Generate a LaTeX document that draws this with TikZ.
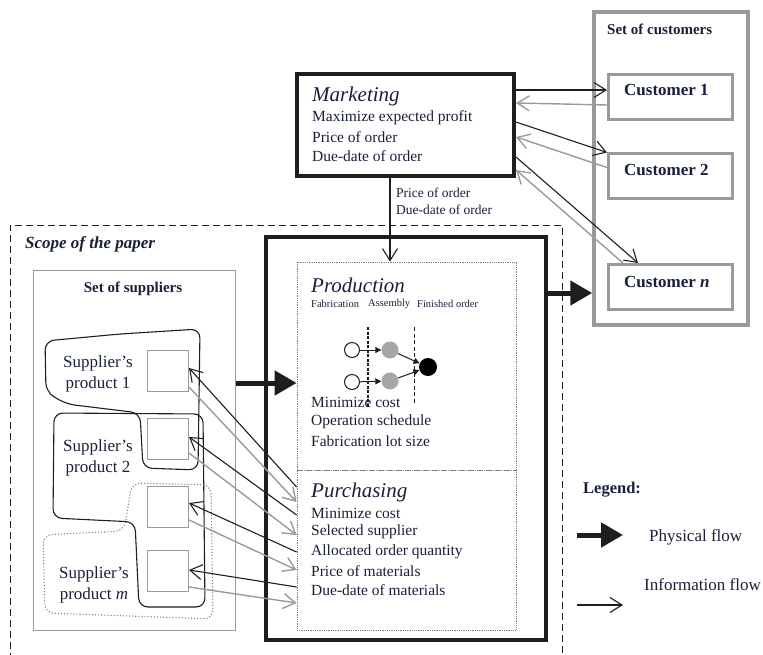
\documentclass[tikz,border=0pt]{standalone}
\usepackage{fontspec}
\setmainfont{Liberation Serif}
\usetikzlibrary{arrows.meta,calc}
\definecolor{ink}{HTML}{1A1F3A}
\definecolor{lgray}{HTML}{9A9A9A}
\definecolor{dk}{HTML}{1E1E1E}
\begin{document}
\begin{tikzpicture}[x=1pt,y=-1pt,
  txt/.style={inner sep=0pt, anchor=west, text=ink, font=\fontsize{15.5}{18}\selectfont},
  head/.style={inner sep=0pt, anchor=west, text=ink, font=\fontsize{21}{24}\selectfont\itshape},
  small/.style={inner sep=0pt, anchor=west, text=ink, font=\fontsize{10.5}{12}\selectfont},
  lab/.style={inner sep=0pt, anchor=west, text=ink, font=\fontsize{13.5}{16}\selectfont},
  boldt/.style={inner sep=0pt, text=ink, font=\fontsize{15}{18}\selectfont\bfseries},
  custt/.style={inner sep=0pt, anchor=west, text=ink, font=\fontsize{17}{20}\selectfont\bfseries},
  supt/.style={inner sep=0pt, text=ink, align=center, font=\fontsize{17}{21}\selectfont},
  legt/.style={inner sep=0pt, anchor=west, text=ink, font=\fontsize{17}{20}\selectfont},
  custbox/.style={draw=lgray, line width=3pt, minimum width=124pt, minimum height=45pt, inner sep=0pt},
  supbox/.style={draw=lgray, line width=1pt, minimum width=41pt, minimum height=41pt, inner sep=0pt, fill=white},
  thickbox/.style={draw=dk, line width=4pt, inner sep=0pt},
  dotbox/.style={draw=gray, densely dotted, line width=0.8pt, inner sep=0pt},
  infob/.style={draw=dk, line width=1.1pt, -{Straight Barb[length=12pt,width=15pt]}},
  infog/.style={draw=lgray, line width=1.4pt, -{Straight Barb[length=12pt,width=15pt]}},
  phys/.style={draw=dk, line width=5pt, -{Triangle[length=22pt,width=24pt]}},
  blob/.style={draw=dk, line width=1.1pt, rounded corners=9pt},
  blobdot/.style={draw=gray, line width=1.1pt, dotted, rounded corners=9pt}
]
\useasboundingbox (0,0) rectangle (763,655);

% scope of the paper (dashed)
\draw[dk, line width=0.9pt, dash pattern=on 7pt off 4pt] (10,660) -- (10,225) -- (562,225) -- (562,660);
\node[inner sep=0pt, anchor=west, text=ink, font=\fontsize{17}{20}\selectfont\bfseries\itshape] (scope) at (25,244) {Scope of the paper};

% customers
\node[draw=lgray, line width=3.5pt, minimum width=154pt, minimum height=313pt, inner sep=0pt] (custs) at (671,168.5) {};
\node[boldt, anchor=west] (custsl) at (607,29) {Set of customers};
\node[custbox] (c1) at (670.5,97) {};
\node[custbox] (c2) at (670.5,176.5) {};
\node[custbox] (cn) at (670.5,287) {};
\node[custt] (c1t) at (624,90) {Customer 1};
\node[custt] (c2t) at (624,170) {Customer 2};
\node[custt] (cnt) at (624,282) {Customer \textit{n}};

% marketing
\node[thickbox, minimum width=217pt, minimum height=102pt] (mkt) at (405.5,125) {};
\node[head] (mkth) at (312,96) {Marketing};
\node[txt] (m1) at (312,118) {Maximize expected profit};
\node[txt] (m2) at (312,137) {Price of order};
\node[txt] (m3) at (312,156) {Due-date of order};

% main box
\node[thickbox, minimum width=280pt, minimum height=403pt] (main) at (406,438.5) {};
\node[dotbox, minimum width=219pt, minimum height=208pt] (prod) at (406.5,366) {};
\node[dotbox, minimum width=219pt, minimum height=160pt] (purch) at (406.5,550) {};

\node[head] (prodh) at (311,285) {Production};
\node[small] (fab) at (311,304) {Fabrication};
\node[small] (asm) at (368,304) {Assembly};
\node[small] (fin) at (417,304) {Finished order};
\node[txt] (p1) at (311,402) {Minimize cost};
\node[txt] (p2) at (311,422) {Operation schedule};
\node[txt] (p3) at (311,441) {Fabrication lot size};

\node[head] (purh) at (311,492) {Purchasing};
\node[txt] (q1) at (311,513) {Minimize cost};
\node[txt] (q2) at (311,532) {Selected supplier};
\node[txt] (q3) at (311,552) {Allocated order quantity};
\node[txt] (q4) at (311,571) {Price of materials};
\node[txt] (q5) at (311,590) {Due-date of materials};

% production network
\draw[dk, line width=1.8pt, dash pattern=on 3pt off 1.5pt] (368,327) -- (368,408);
\draw[dk, line width=0.8pt, dash pattern=on 4pt off 2.5pt] (414,327) -- (414,405);
\node[circle, draw=dk, fill=white, line width=1pt, minimum size=15pt, inner sep=0pt] (w1) at (352,350) {};
\node[circle, draw=dk, fill=white, line width=1pt, minimum size=15pt, inner sep=0pt] (w2) at (352,382) {};
\node[circle, fill=gray!70, minimum size=17pt, inner sep=0pt] (g1) at (390,350) {};
\node[circle, fill=gray!70, minimum size=17pt, inner sep=0pt] (g2) at (390,381) {};
\node[circle, fill=black, minimum size=18pt, inner sep=0pt] (bk) at (428,367) {};
\draw[dk, line width=1pt, -{Triangle[length=6pt,width=6pt]}] (w1) -- (g1);
\draw[dk, line width=1pt, -{Triangle[length=6pt,width=6pt]}] (w2) -- (g2);
\draw[dk, line width=1pt, -{Triangle[length=6pt,width=6pt]}] (g1) -- (bk);
\draw[dk, line width=1pt, -{Triangle[length=6pt,width=6pt]}] (g2) -- (bk);

% marketing -> production
\draw[infob] ([xshift=-15.5pt]mkt.south) -- ([xshift=-15.5pt]mkt.south |- prod.north);
\node[lab] (lbl1) at (396,193) {Price of order};
\node[lab] (lbl2) at (396,210) {Due-date of order};

% marketing <-> customers
\draw[infob] ([yshift=35pt]mkt.east) -- ([yshift=35pt]mkt.east -| c1.west);
\draw[infog] ([yshift=-8pt]c1.west) -- ([yshift=22pt]mkt.east);
\draw[infob] ([yshift=3pt]mkt.east) -- (c2.north west);
\draw[infog] ([yshift=9pt]c2.west) -- ([yshift=-12pt]mkt.east);
\draw[infob] ([yshift=-32pt]mkt.east) -- ([xshift=31pt]cn.north west);
\draw[infog] ([xshift=16pt]cn.north west) -- ([yshift=-45pt]mkt.east);

% suppliers
\node[draw=lgray, line width=1pt, minimum width=202pt, minimum height=360pt, inner sep=0pt] (sup) at (134,450) {};
\node[boldt] (supl) at (133,289) {Set of suppliers};

\draw[blob] (45,341) -- (120,334) -- (200,329) -- (198,470) -- (143,468) -- (140,413) -- (66,404) -- (46,392) -- cycle;
\draw[blob] (54,413) -- (203,414) -- (205,607) -- (139,607) -- (135,522) -- (53,518) -- cycle;
\draw[blobdot] (132,483) -- (211,485) -- (213,619) -- (45,613) -- (43,535) -- (124,531) -- cycle;

\node[supbox] (s1) at (168,371) {};
\node[supbox] (s2) at (168,438.5) {};
\node[supbox] (s3) at (168,506.5) {};
\node[supbox] (s4) at (168,571) {};

\node[supt] (sl1) at (98,374) {Supplier's\\product 1};
\node[supt] (sl2) at (98,458) {Supplier's\\product 2};
\node[supt] (slm) at (94,585) {Supplier's\\product \textit{m}};

% purchasing <-> supplier boxes
\draw[infob] ([yshift=63pt]purch.west) -- ([yshift=3pt]s1.east);
\draw[infog] ([yshift=-16pt]s1.east) -- ([yshift=48pt]purch.west);
\draw[infob] ([yshift=35pt]purch.west) -- ([yshift=1.5pt]s2.east);
\draw[infog] ([yshift=-14.5pt]s2.east) -- ([yshift=15pt]purch.west);
\draw[infob] ([yshift=-2pt]purch.west) -- ([yshift=3.5pt]s3.east);
\draw[infog] ([yshift=-13.5pt]s3.east) -- ([yshift=-20pt]purch.west);
\draw[infob] ([yshift=-37pt]purch.west) -- ([yshift=1pt]s4.east);
\draw[infog] ([yshift=-16pt]s4.east) -- ([yshift=-53pt]purch.west);

% physical flows
\draw[phys] ([yshift=67pt]sup.east) -- ([yshift=67pt]sup.east -| prod.west);
\draw[phys] ([yshift=145.5pt]main.east) -- ([yshift=145.5pt]main.east -| custs.west);

% legend
\node[inner sep=0pt, anchor=west, text=ink, font=\fontsize{16.5}{20}\selectfont\bfseries] (leg) at (583,490) {Legend:};
\coordinate (lp1) at (577,535);
\coordinate (lp2) at (623,535);
\coordinate (li1) at (577,605);
\coordinate (li2) at (623,605);
\draw[phys] (lp1) -- (lp2);
\draw[infob] (li1) -- (li2);
\node[legt] (legp) at (649,537) {Physical flow};
\node[legt] (legi) at (644,585) {Information flow};
\end{tikzpicture}
\end{document}
